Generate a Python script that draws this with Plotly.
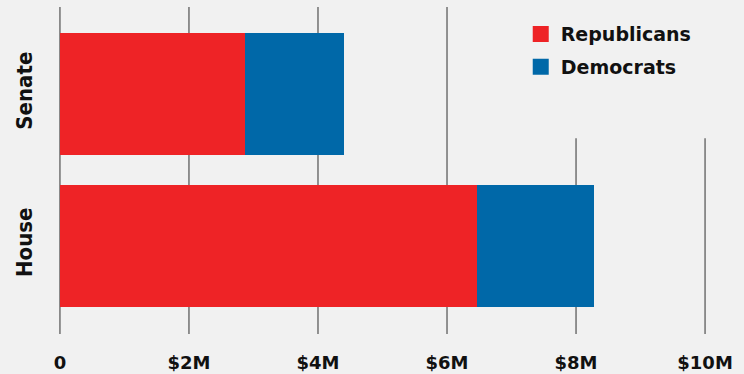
import plotly.graph_objects as go

chambers = ["House", "Senate"]
republicans = [6.47, 2.87]   # $M
democrats = [1.81, 1.53]     # $M
tick_vals = [0, 2, 4, 6, 8, 10]
tick_text = ["0", "$2M", "$4M", "$6M", "$8M", "$10M"]

RED = "#EE2326"
BLUE = "#0068A8"
BG = "#F1F1F1"

fig = go.Figure()
fig.add_trace(go.Bar(y=chambers, x=republicans, name="Republicans", orientation="h",
                     marker=dict(color=RED, line=dict(width=0)), width=0.805, showlegend=False))
fig.add_trace(go.Bar(y=chambers, x=democrats, name="Democrats", orientation="h",
                     marker=dict(color=BLUE, line=dict(width=0)), width=0.805, showlegend=False))
# legend entries with large square swatches
for name, col in [("Republicans", RED), ("Democrats", BLUE)]:
    fig.add_trace(go.Scatter(x=[None], y=[None], mode="markers", name=name, legendgroup=name,
                             marker=dict(symbol="square", size=20, color=col)))

# grid lines at the tick values (drawn as shapes so the legend patch can hide them)
for tv in tick_vals:
    fig.add_shape(type="line", xref="x", yref="paper", x0=tv, x1=tv, y0=0, y1=1,
                  line=dict(color="#707070", width=1.5), layer="below")
# background patch behind the legend hiding the grid lines
fig.add_shape(type="rect", xref="paper", yref="paper", x0=0.71, x1=1.1, y0=0.599, y1=1.05,
              fillcolor=BG, line=dict(width=0), layer="below")

fig.update_layout(
    barmode="stack",
    width=744, height=374,
    paper_bgcolor=BG, plot_bgcolor=BG,
    margin=dict(l=58, r=37, t=7, b=40),
    showlegend=True,
    legend=dict(x=0.713, y=0.975, xanchor="left", yanchor="top", bgcolor="rgba(0,0,0,0)",
                font=dict(family="DejaVu Sans", size=19, color="#111", weight=700),
                itemwidth=30, tracegroupgap=5, traceorder="grouped", itemsizing="trace"),
    xaxis=dict(range=[-0.03, 10.03], tickvals=tick_vals, ticktext=tick_text,
               showgrid=False, automargin=False,
               zeroline=False, showline=False, ticks="", ticklabelstandoff=16,
               tickfont=dict(family="DejaVu Sans", size=18, color="#111", weight=700)),
    yaxis=dict(range=[-0.584, 1.574], tickangle=-90, showgrid=False, zeroline=False,
               showline=False, ticks="", ticklabelstandoff=21, automargin=False,
               tickfont=dict(family="DejaVu Sans Condensed", size=22,
                             color="#111", weight=700)),
)

fig.write_html("out.html", post_script="document.body.style.margin='0';",
               config={"displayModeBar": False})
